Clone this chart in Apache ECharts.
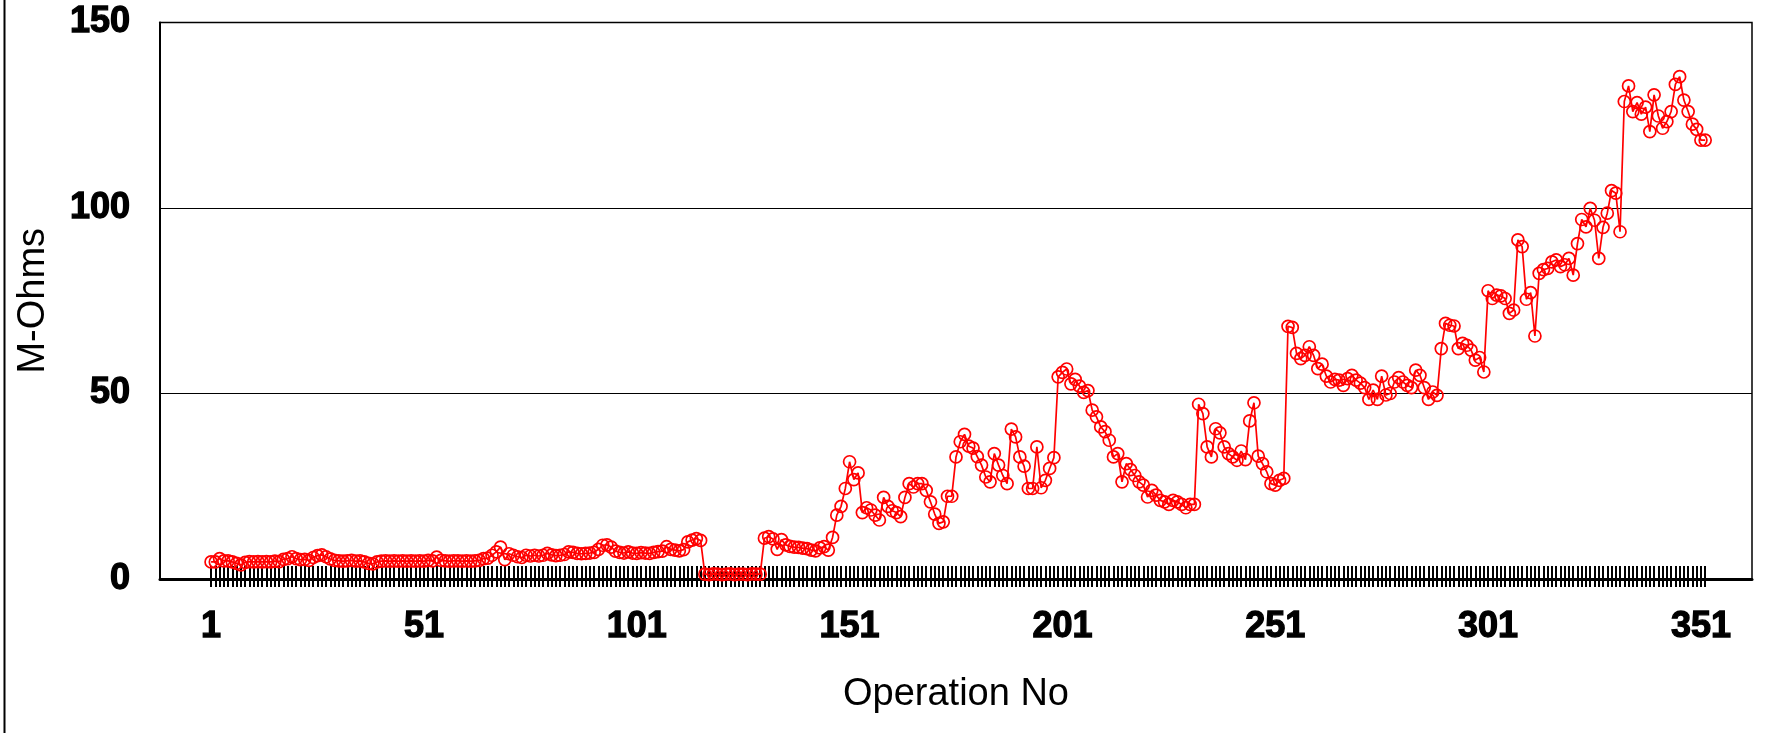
<!DOCTYPE html>
<html>
<head>
<meta charset="utf-8">
<style>
html,body{margin:0;padding:0;background:#fff;}
#chart{width:1769px;height:733px;}
</style>
<script src="https://cdn.jsdelivr.net/npm/echarts@6/dist/echarts.min.js"></script>
</head>
<body>
<div id="chart"></div>
<script>
// Resistance readings (M-Ohms) by operation number, split in blocks
var ohmsOps1to100 = [
  4.6, 4.6, 5.5, 4.9, 4.9, 4.6, 4.2, 3.8, 4.5, 4.7,
  4.6, 4.7, 4.6, 4.7, 4.6, 4.8, 4.7, 5.3, 5.5, 6.0,
  5.5, 5.2, 5.3, 5.0, 5.8, 6.3, 6.5, 6.0, 5.4, 5.0,
  4.9, 4.8, 4.9, 5.0, 4.8, 4.9, 4.6, 4.2, 4.1, 4.6,
  4.8, 4.9, 4.8, 4.9, 4.8, 4.9, 4.8, 4.9, 4.8, 4.9,
  4.8, 5.0, 4.9, 5.9, 5.0, 4.9, 4.8, 4.9, 4.9, 4.8,
  4.9, 4.8, 4.9, 5.0, 5.5, 5.6, 6.4, 7.3, 8.6, 5.2,
  6.8, 6.4, 6.0, 5.8, 6.4, 6.2, 6.4, 6.2, 6.4, 6.9,
  6.5, 6.3, 6.4, 6.6, 7.3, 7.2, 6.9, 6.8, 6.9, 7.0,
  7.2, 8.0, 9.1, 9.2, 8.6, 7.5, 7.2, 7.0, 7.3, 7.0
];
var ohmsOps101to200 = [
  6.9, 7.1, 7.0, 6.9, 7.2, 7.4, 7.5, 8.7, 8.0, 7.8,
  7.6, 7.9, 10.0, 10.5, 10.9, 10.4, 1.3, 1.2, 1.4, 1.3,
  1.2, 1.3, 1.4, 1.2, 1.3, 1.3, 1.2, 1.4, 1.3, 1.3,
  11.0, 11.4, 10.8, 8.0, 10.6, 9.2, 8.8, 8.6, 8.5, 8.3,
  8.2, 7.8, 7.6, 8.4, 8.7, 7.8, 11.2, 17.2, 19.6, 24.4,
  31.6, 26.8, 28.6, 17.9, 19.2, 18.6, 17.2, 15.9, 22.0, 19.6,
  18.4, 17.9, 16.8, 22.0, 25.7, 24.8, 25.7, 25.7, 23.9, 20.8,
  17.5, 15.0, 15.4, 22.3, 22.3, 32.9, 37.0, 39.0, 35.8, 35.3,
  33.0, 30.7, 27.5, 26.2, 33.8, 30.7, 27.9, 25.7, 40.4, 38.3,
  32.9, 30.4, 24.4, 24.4, 35.6, 24.6, 26.6, 29.8, 32.7, 54.5
];
var ohmsOps201to300 = [
  55.7, 56.6, 52.6, 53.8, 52.0, 50.3, 50.8, 45.5, 43.7, 41.0,
  39.7, 37.4, 32.9, 33.8, 26.2, 31.1, 29.5, 27.9, 26.2, 25.3,
  22.1, 23.9, 22.6, 21.2, 20.8, 20.1, 21.2, 20.8, 20.1, 19.2,
  20.1, 20.1, 47.1, 44.6, 35.6, 32.9, 40.5, 39.4, 35.6, 33.8,
  32.9, 32.0, 34.5, 32.2, 42.6, 47.5, 33.1, 31.1, 28.9, 25.7,
  25.3, 26.6, 27.1, 68.1, 67.8, 60.8, 59.4, 60.3, 62.6, 60.3,
  56.7, 57.9, 54.7, 53.1, 53.8, 53.6, 52.2, 54.0, 54.9, 53.6,
  52.8, 51.6, 48.4, 50.9, 48.4, 54.7, 49.6, 50.0, 53.1, 54.3,
  53.1, 52.2, 51.6, 56.3, 54.9, 51.6, 48.4, 50.4, 49.5, 62.1,
  68.9, 68.4, 68.2, 62.1, 63.5, 63.0, 61.7, 59.0, 59.7, 55.8
];
var ohmsOps301to352 = [
  77.7, 75.6, 76.5, 76.3, 75.6, 71.6, 72.5, 91.4, 89.6, 75.4,
  77.2, 65.5, 82.4, 83.4, 83.7, 85.5, 86.0, 84.2, 84.7, 86.4,
  81.9, 90.4, 96.9, 94.9, 99.9, 96.7, 86.4, 94.8, 98.6, 104.7,
  104.0, 93.6, 128.7, 132.9, 126.0, 128.4, 125.3, 127.2, 120.6, 130.5,
  124.8, 121.5, 123.3, 126.0, 133.3, 135.4, 129.1, 126.0, 122.6, 121.2,
  118.3, 118.3
];
var yTicks = [0, 50, 100, 150];
var labelStep = 50;           // x labels: 1, 51, 101, ...
var axisTitleX = 'Operation No';
var axisTitleY = 'M-Ohms';

var values = ohmsOps1to100.concat(ohmsOps101to200, ohmsOps201to300, ohmsOps301to352);
var N = values.length;
var padBefore = 12, padAfter = 11;
var categories = [];
for (var k = 1 - padBefore; k <= N + padAfter; k++) categories.push(String(k));
var seriesData = [];
for (var j = 0; j < padBefore; j++) seriesData.push(null);
seriesData = seriesData.concat(values);

function isOp(v) { var n = +v; return n >= 1 && n <= N; }

var chart = echarts.init(document.getElementById('chart'), null, {renderer: 'canvas'});
var FONT = 'Liberation Sans, Arial, sans-serif';
var boldLabel = {color: '#000', fontFamily: FONT, fontWeight: 'bold', fontSize: 36,
  textBorderColor: '#000', textBorderWidth: 1.3};
chart.setOption({
  animation: false,
  backgroundColor: '#fff',
  grid: {left: 160, right: 17, top: 22.5, bottom: 154, show: true, borderColor: '#000', borderWidth: 1.5, containLabel: false},
  graphic: [{
    type: 'line', shape: {x1: 4.5, y1: 0, x2: 4.5, y2: 733},
    style: {stroke: '#000', lineWidth: 2}
  }],
  xAxis: [{
    type: 'category', data: categories, boundaryGap: false, position: 'bottom',
    axisLine: {show: true, onZero: false, lineStyle: {color: '#000', width: 3}},
    axisTick: {show: true, inside: true, length: 13, interval: function (i, v) { return isOp(v); },
      lineStyle: {color: '#000', width: 2}},
    axisLabel: Object.assign({show: true, margin: 30,
      interval: function (i, v) { return isOp(v) && ((+v - 1) % labelStep === 0); }}, boldLabel),
    splitLine: {show: false},
    name: axisTitleX, nameLocation: 'middle', nameGap: 97,
    nameTextStyle: {color: '#000', fontFamily: FONT, fontSize: 38}
  }, {
    type: 'category', data: categories, boundaryGap: false, position: 'bottom',
    axisLine: {show: false, onZero: false},
    axisTick: {show: true, inside: false, length: 8, interval: function (i, v) { return isOp(v); },
      lineStyle: {color: '#000', width: 2}},
    axisLabel: {show: false},
    splitLine: {show: false}
  }],
  yAxis: {
    type: 'value', min: yTicks[0], max: yTicks[yTicks.length - 1], interval: yTicks[1] - yTicks[0],
    axisLine: {show: true, lineStyle: {color: '#000', width: 2}},
    axisTick: {show: false},
    axisLabel: Object.assign({margin: 30}, boldLabel),
    splitLine: {show: true, lineStyle: {color: '#000', width: 1.2}},
    name: axisTitleY, nameLocation: 'middle', nameGap: 107, nameRotate: 90,
    nameTextStyle: {color: '#000', fontFamily: FONT, fontSize: 38}
  },
  series: [{
    type: 'line', xAxisIndex: 0, data: seriesData,
    symbol: 'circle', symbolSize: 12, showAllSymbol: true,
    connectNulls: false,
    lineStyle: {color: '#ff0000', width: 1.7},
    itemStyle: {color: 'rgba(255,255,255,0)', borderColor: '#ff0000', borderWidth: 1.7}
  }]
});
</script>
</body>
</html>
